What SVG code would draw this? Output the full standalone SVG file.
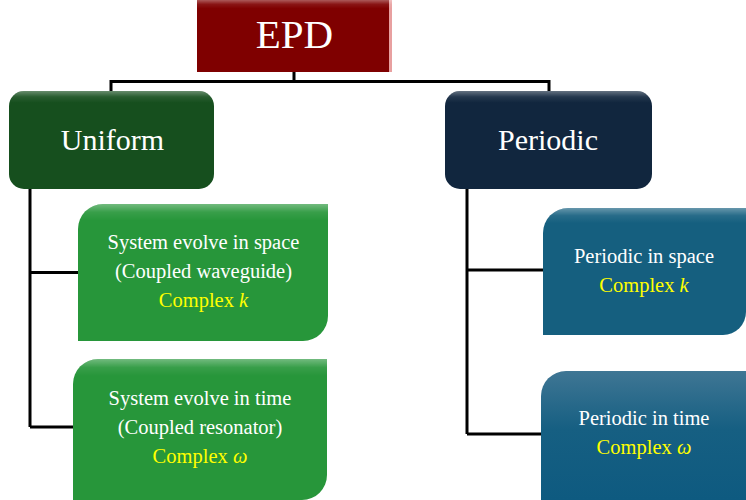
<svg xmlns="http://www.w3.org/2000/svg" width="746" height="500" viewBox="0 0 746 500">
<defs>
<linearGradient id="gloss" x1="0" y1="0" x2="0" y2="1">
<stop offset="0" stop-color="#ffffff" stop-opacity="0.35"/>
<stop offset="0.06" stop-color="#ffffff" stop-opacity="0.08"/>
<stop offset="0.12" stop-color="#ffffff" stop-opacity="0"/>
<stop offset="1" stop-color="#ffffff" stop-opacity="0"/>
</linearGradient>
<linearGradient id="blue2" x1="0" y1="0" x2="0" y2="1">
<stop offset="0" stop-color="#3f7694"/>
<stop offset="0.45" stop-color="#165f82"/>
<stop offset="1" stop-color="#0e5a80"/>
</linearGradient>
<style>
.t{font-family:"Liberation Serif","Times New Roman",serif;fill:#ffffff;text-anchor:middle}
.big{font-size:30px}
.body{font-size:20.5px}
.y{fill:#ffff00}
.i{font-style:italic}
.c{fill:none;stroke:#000000;stroke-width:3}
</style>
</defs>
<g id="connectors">
<path class="c" d="M294,72 V81.5 M111,81.5 H549 M111,80 V92 M549,80 V92"/>
<path class="c" d="M30,188 V427 M30,272.5 H79 M30,427 H74"/>
<path class="c" d="M467,188 V434 M467,270 H544 M467,434 H542"/>
</g>
<g id="epd">
<rect x="197" y="0" width="195" height="72" fill="#7f0000"/>
<rect x="389" y="0" width="3" height="72" fill="#e8a0a0"/>
<rect x="197" y="0" width="195" height="72" fill="url(#gloss)"/>
<text class="t" x="294.5" y="48" font-size="41">EPD</text>
</g>
<g id="uniform">
<rect x="9" y="91" width="205" height="98" rx="15" fill="#164f1e"/>
<rect x="9" y="91" width="205" height="98" rx="15" fill="url(#gloss)"/>
<text class="t big" x="112.5" y="150">Uniform</text>
</g>
<g id="periodic">
<rect x="445" y="91" width="207" height="98" rx="15" fill="#11263e"/>
<rect x="445" y="91" width="207" height="98" rx="15" fill="url(#gloss)"/>
<text class="t big" x="548" y="150">Periodic</text>
</g>
<g id="space">
<path d="M78,341 V229 A25,25 0 0 1 103,204 H328 V316 A25,25 0 0 1 303,341 Z" fill="#27963a"/>
<path d="M78,341 V229 A25,25 0 0 1 103,204 H328 V316 A25,25 0 0 1 303,341 Z" fill="url(#gloss)"/>
<text class="t body" x="203.5" y="249">System evolve in space</text>
<text class="t body" x="203.5" y="278">(Coupled waveguide)</text>
<text class="t body y" x="203.5" y="307">Complex <tspan class="i">k</tspan></text>
</g>
<g id="time">
<path d="M73,500 V384 A25,25 0 0 1 98,359 H327 V475 A25,25 0 0 1 302,500 Z" fill="#27963a"/>
<path d="M73,500 V384 A25,25 0 0 1 98,359 H327 V475 A25,25 0 0 1 302,500 Z" fill="url(#gloss)"/>
<text class="t body" x="200" y="405">System evolve in time</text>
<text class="t body" x="200" y="434">(Coupled resonator)</text>
<text class="t body y" x="200" y="463">Complex <tspan class="i">ω</tspan></text>
</g>
<g id="pspace">
<path d="M543,335 V233 A25,25 0 0 1 568,208 H746 V312 A23,23 0 0 1 723,335 Z" fill="#155f7f"/>
<path d="M543,335 V233 A25,25 0 0 1 568,208 H746 V312 A23,23 0 0 1 723,335 Z" fill="url(#gloss)"/>
<text class="t body" x="644" y="263">Periodic in space</text>
<text class="t body y" x="644" y="292">Complex <tspan class="i">k</tspan></text>
</g>
<g id="ptime">
<path d="M541,500 V396 A25,25 0 0 1 566,371 H746 V500 Z" fill="url(#blue2)"/>
<text class="t body" x="644" y="425">Periodic in time</text>
<text class="t body y" x="644" y="454">Complex <tspan class="i">ω</tspan></text>
</g>
</svg>
